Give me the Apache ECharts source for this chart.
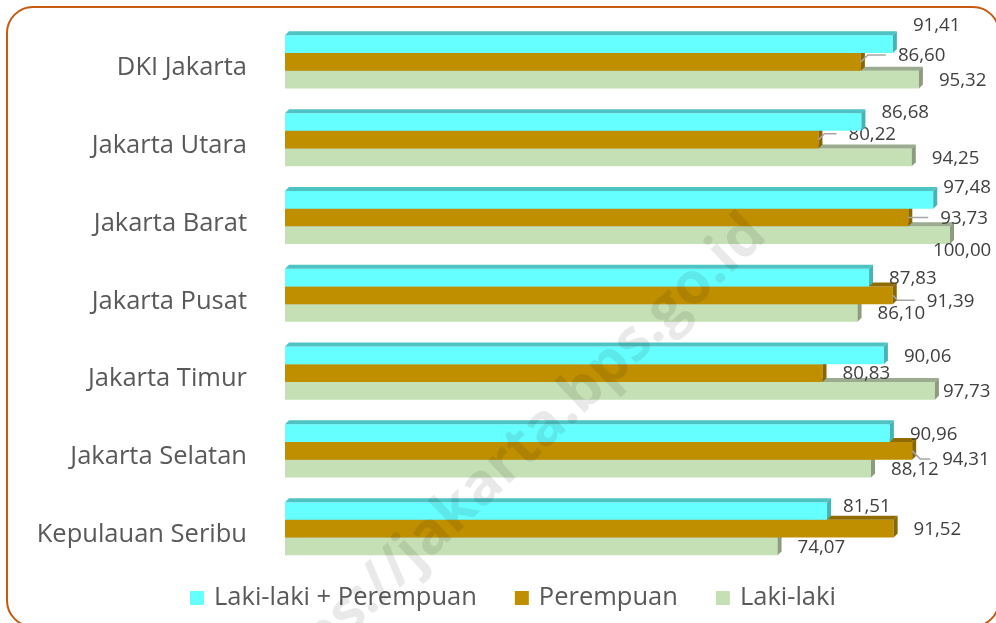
<!DOCTYPE html>
<html>
<head>
<meta charset="utf-8">
<title>Persentase per Wilayah</title>
<script src="https://cdn.jsdelivr.net/npm/echarts@6/dist/echarts.min.js"></script>
<style>
  html, body { margin: 0; padding: 0; background: #ffffff; }
  #chart { width: 996px; height: 623px; }
</style>
</head>
<body>
<div id="chart"></div>
<script>
// Region names, top to bottom
const categories = ['DKI Jakarta', 'Jakarta Utara', 'Jakarta Barat', 'Jakarta Pusat',
  'Jakarta Timur', 'Jakarta Selatan', 'Kepulauan Seribu'];

// Values per series
const totalValues = [91.41, 86.68, 97.48, 87.83, 90.06, 90.96, 81.51];     // Laki-laki + Perempuan
const perempuanValues = [86.60, 80.22, 93.73, 91.39, 80.83, 94.31, 91.52]; // Perempuan
const lakiValues = [95.32, 94.25, 100.00, 86.10, 97.73, 88.12, 74.07];     // Laki-laki

const seriesNames = ['Laki-laki + Perempuan', 'Perempuan', 'Laki-laki'];

// Hand-placed label shifts [dx, dy] (px) for labels moved off their default spot
const totalLabelShift = { 0: [0, -20], 1: [0, -10], 2: [-10, -13], 6: [-4, -5] };
const perempuanLabelShift = { 0: [17, -7], 1: [10, -6], 2: [12, 0], 3: [14, 5], 5: [10, 8] };
const lakiLabelShift = { 2: [-37, 14], 4: [-12, 0] };

const FONT = '"Open Sans", "Noto Sans", sans-serif';
const BAR_FRAC = 0.2275;  // height of one bar as a fraction of the category band
const DEPTH = 4;          // 3D extrusion depth in px
const LABEL_GAP = 20;

function fmt(v) { return v.toFixed(2).replace('.', ','); }

function makeRender(slot, colors, shifts, withLeader) {
  return function (params, api) {
    const val = api.value(0);
    const cat = api.value(1);
    const end = api.coord([val, cat]);
    const start = api.coord([0, cat]);
    const band = api.size([0, 1])[1];
    const h = band * BAR_FRAC;
    const y0 = end[1] - 1.5 * h + slot * h;
    const x0 = start[0];
    const x1 = end[0];
    const d = DEPTH;
    const children = [
      { type: 'rect', shape: { x: x0, y: y0, width: x1 - x0, height: h },
        style: { fill: colors.front } },
      { type: 'polygon', shape: { points: [[x0, y0], [x0 + d, y0 - d], [x1 + d, y0 - d], [x1, y0]] },
        style: { fill: colors.top } },
      { type: 'polygon', shape: { points: [[x1, y0], [x1 + d, y0 - d], [x1 + d, y0 + h - d], [x1, y0 + h]] },
        style: { fill: colors.side } }
    ];
    const sh = shifts[params.dataIndex] || [0, 0];
    const lx = x1 + LABEL_GAP + sh[0];
    const ly = y0 + h / 2 + 1 + sh[1];
    if (withLeader && (sh[0] !== 0 || sh[1] !== 0)) {
      const cy = y0 + h / 2;
      const ty = ly - 1;
      const k = Math.min(Math.abs(ty - cy), Math.max(0, lx - 14 - x1));
      children.push({
        type: 'polyline',
        shape: { points: [[x1, cy], [x1 + k, ty], [lx - 12, ty]] },
        style: { stroke: '#A6A6A6', lineWidth: 1.5, fill: null }
      });
    }
    children.push({
      type: 'text',
      style: { text: fmt(val), x: lx, y: ly, fill: '#404040',
        font: '18.7px ' + FONT, align: 'left', verticalAlign: 'middle' }
    });
    return { type: 'group', children: children };
  };
}

function toData(values) { return values.map(function (v, i) { return [v, i]; }); }

const palette = {
  total: { front: '#66FFFF', top: '#4DC3C3', side: '#47B4B4' },
  perempuan: { front: '#BF8F00', top: '#8F6B00', side: '#896600' },
  laki: { front: '#C5E0B4', top: '#9BAB8F', side: '#8C9C81' }
};

const chart = echarts.init(document.getElementById('chart'), null, { renderer: 'canvas' });

chart.setOption({
  animation: false,
  backgroundColor: '#ffffff',
  grid: { left: 285, right: 46, top: 23, bottom: 55.4, containLabel: false },
  xAxis: { type: 'value', min: 0, max: 100, show: false },
  yAxis: {
    type: 'category', data: categories, inverse: true,
    axisLine: { show: false }, axisTick: { show: false }, splitLine: { show: false },
    axisLabel: { margin: 38, fontSize: 25.5, color: '#595959', fontFamily: FONT,
      verticalAlign: 'top', lineHeight: 12 }
  },
  legend: {
    data: seriesNames, icon: 'rect', left: 185, top: 580,
    itemWidth: 14, itemHeight: 14, itemGap: 38,
    textStyle: { fontSize: 25.5, color: '#595959', fontFamily: FONT, padding: [0, 0, 0, 5] }
  },
  series: [
    // drawn bottom-up so the upper bars' faces overlap the lower ones
    { type: 'custom', name: seriesNames[2], clip: false, z: 2,
      itemStyle: { color: palette.laki.front }, encode: { x: 0, y: 1 },
      renderItem: makeRender(2, palette.laki, lakiLabelShift, false), data: toData(lakiValues) },
    { type: 'custom', name: seriesNames[1], clip: false, z: 3,
      itemStyle: { color: palette.perempuan.front }, encode: { x: 0, y: 1 },
      renderItem: makeRender(1, palette.perempuan, perempuanLabelShift, true), data: toData(perempuanValues) },
    { type: 'custom', name: seriesNames[0], clip: false, z: 4,
      itemStyle: { color: palette.total.front }, encode: { x: 0, y: 1 },
      renderItem: makeRender(0, palette.total, totalLabelShift, false), data: toData(totalValues) }
  ],
  graphic: [
    { type: 'rect', z: 100, silent: true,
      shape: { x: 7, y: 7, width: 992, height: 619.5, r: 26 },
      style: { fill: null, stroke: '#C55A11', lineWidth: 2 } },
    { type: 'text', z: 100, silent: true, x: 502, y: 468, rotation: 43.5 * Math.PI / 180,
      style: { text: 'https://jakarta.bps.go.id', font: 'bold 58px ' + FONT,
        fill: 'rgba(0,0,0,0.085)', align: 'center', verticalAlign: 'middle' } }
  ]
});
</script>
</body>
</html>
